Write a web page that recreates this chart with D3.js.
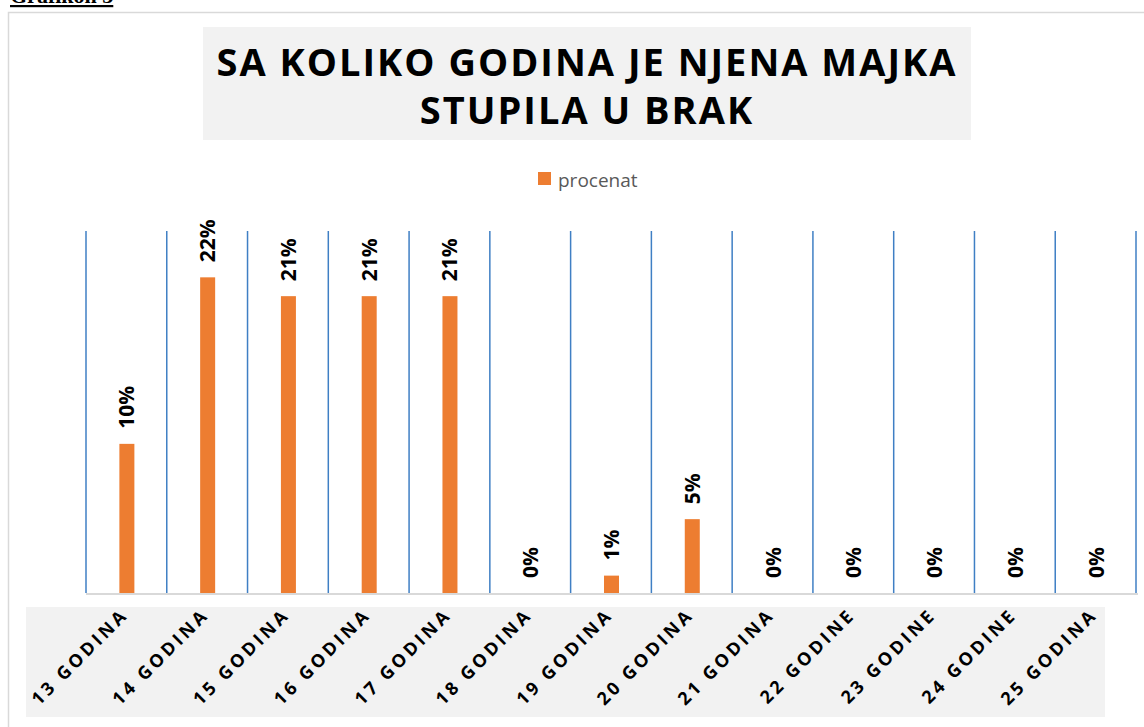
<!DOCTYPE html>
<html><head><meta charset="utf-8">
<script src="https://cdn.jsdelivr.net/npm/d3@7/dist/d3.min.js"></script>
<style>body{margin:0;background:#fff;}svg{display:block;}</style>
</head><body>
<script>
const categories = ["13 GODINA","14 GODINA","15 GODINA","16 GODINA","17 GODINA","18 GODINA","19 GODINA","20 GODINA","21 GODINA","22 GODINE","23 GODINE","24 GODINE","25 GODINA"];
const values = [10.3, 21.8, 20.5, 20.5, 20.5, 0, 1.2, 5.1, 0, 0, 0, 0, 0];
const valueLabels = ["10%","22%","21%","21%","21%","0%","1%","5%","0%","0%","0%","0%","0%"];
const titleLines = ["SA KOLIKO GODINA JE NJENA MAJKA","STUPILA U BRAK"];
const seriesName = "procenat";
const caption = "Grafikon 3";

const W = 1144, H = 727;
const svg = d3.select("body").append("svg").attr("width", W).attr("height", H);

// caption (cut off at top, as in the reference)
svg.append("text").attr("x", 10).attr("y", 3)
  .attr("font-family", "Liberation Serif, Times New Roman, serif")
  .attr("font-weight", "bold").attr("font-size", 22)
  .attr("text-decoration", "underline").attr("fill", "#000").text(caption);

// outer chart border
svg.append("path").attr("d", `M8.5,${H} V12.5 H${W}`)
  .attr("fill", "none").attr("stroke", "#d9d9d9").attr("stroke-width", 1.5);

// title box
svg.append("rect").attr("x", 203).attr("y", 27).attr("width", 768).attr("height", 113).attr("fill", "#f2f2f2");
svg.selectAll("text.title").data(titleLines).join("text").attr("class", "title")
  .attr("x", 587).attr("y", (d, i) => 76 + i * 48)
  .attr("text-anchor", "middle")
  .attr("font-family", "Open Sans, sans-serif").attr("font-weight", "bold")
  .attr("font-size", 38).attr("letter-spacing", 2.0).attr("fill", "#000").text(d => d);

// legend
svg.append("rect").attr("x", 538).attr("y", 172).attr("width", 13).attr("height", 13).attr("fill", "#ed7d31");
svg.append("text").attr("x", 558).attr("y", 187).attr("font-family", "Open Sans, sans-serif")
  .attr("font-size", 19).attr("fill", "#595959").text(seriesName);

// scales
const plotLeft = 86, plotRight = 1136, plotTop = 231, plotBottom = 593;
const x = d3.scaleBand().domain(categories).range([plotLeft, plotRight]).paddingInner(0).paddingOuter(0);
const y = d3.scaleLinear().domain([0, 25]).range([plotBottom, plotTop]);

// vertical gridlines between categories
const gridX = categories.map(c => x(c)).concat([x(categories[categories.length - 1]) + x.bandwidth()]);
svg.selectAll("line.grid").data(gridX).join("line").attr("class", "grid")
  .attr("x1", d => d).attr("x2", d => d).attr("y1", plotTop).attr("y2", plotBottom)
  .attr("stroke", "#3f7fc4").attr("stroke-width", 1.5);

// bars
const barW = 15;
svg.selectAll("rect.bar").data(values).join("rect").attr("class", "bar")
  .attr("x", (d, i) => x(categories[i]) + x.bandwidth() / 2 - barW / 2 + 0.5)
  .attr("width", barW)
  .attr("y", d => y(d)).attr("height", d => plotBottom - y(d))
  .attr("fill", "#ed7d31");

// axis line
svg.append("line").attr("x1", plotLeft).attr("x2", plotRight + 2).attr("y1", plotBottom + 1).attr("y2", plotBottom + 1)
  .attr("stroke", "#d9d9d9").attr("stroke-width", 2);

// data labels (rotated)
svg.selectAll("text.val").data(values).join("text").attr("class", "val")
  .attr("transform", (d, i) => `translate(${x(categories[i]) + x.bandwidth() / 2 + 8},${y(d) - 15}) rotate(-90)`)
  .attr("font-family", "Open Sans, sans-serif").attr("font-weight", "bold").attr("font-size", 21)
  .attr("fill", "#000").text((d, i) => valueLabels[i]);

// category label band
svg.append("rect").attr("x", 26).attr("y", 607).attr("width", 1079).attr("height", 110).attr("fill", "#f2f2f2");
svg.selectAll("text.cat").data(categories).join("text").attr("class", "cat")
  .attr("transform", d => `translate(${x(d) + x.bandwidth() / 2 + 3},${616}) rotate(-45)`)
  .attr("text-anchor", "end")
  .attr("font-family", "Open Sans, sans-serif").attr("font-weight", "bold").attr("font-size", 18)
  .attr("letter-spacing", 3.2).attr("fill", "#000").text(d => d);
</script>
</body></html>
